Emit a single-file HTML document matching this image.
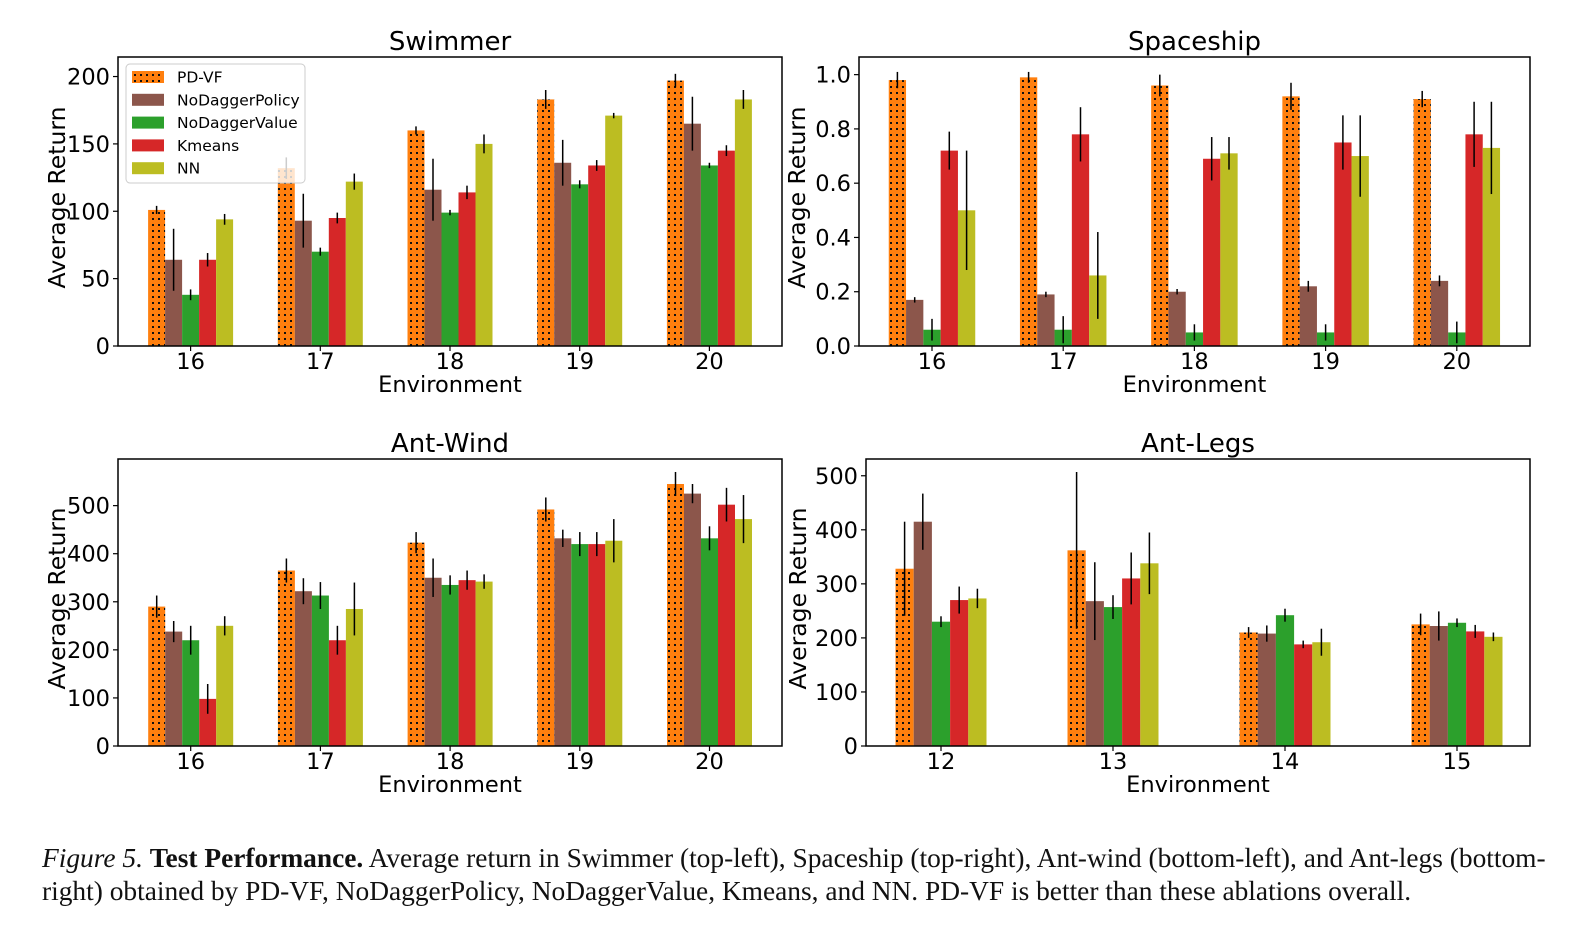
<!DOCTYPE html>
<html><head><meta charset="utf-8">
<style>
html,body{margin:0;padding:0;background:#fff;}
body{width:1584px;height:952px;position:relative;overflow:hidden;}
svg text{font-family:"DejaVu Sans","Liberation Sans",sans-serif;}
#caption{position:absolute;left:42px;top:842px;width:1476px;font-family:"Liberation Serif",serif;font-size:27.4px;line-height:33px;color:#111;}
#caption .l1{text-align:justify;text-align-last:justify;white-space:nowrap;}
#caption .l2{white-space:nowrap;}
</style></head>
<body>
<svg id="fig" width="1584" height="830" viewBox="0 0 1584 830" xmlns="http://www.w3.org/2000/svg">
<defs>
<pattern id="dots" width="6" height="6" patternUnits="userSpaceOnUse">
<rect width="6" height="6" fill="#ff7f0e"/>
<rect x="2" y="2" width="2" height="2" fill="#111"/>
</pattern>
</defs>
</svg>
<div id="caption"><div class="l1"><i>Figure 5.</i> <b>Test Performance.</b> Average return in Swimmer (top-left), Spaceship (top-right), Ant-wind (bottom-left), and Ant-legs (bottom-</div><div class="l2">right) obtained by PD-VF, NoDaggerPolicy, NoDaggerValue, Kmeans, and NN. PD-VF is better than these ablations overall.</div></div>
<script>
const seriesNames = ["PD-VF","NoDaggerPolicy","NoDaggerValue","Kmeans","NN"];
const seriesColors = ["url(#dots)","#8c564b","#2ca02c","#d62728","#bcbd22"];
const legendColors = ["url(#dots)","#8c564b","#2ca02c","#d62728","#bcbd22"];

const swimmerCats = ["16","17","18","19","20"];
const swimmerVals = [[101,132,160,183,197],[64,93,116,136,165],[38,70,99,120,134],[64,95,114,134,145],[94,122,150,171,183]];
const swimmerErr = [[3,8,3,7,5],[23,20,23,17,20],[4,3,2,3,2],[5,4,5,4,4],[4,6,7,2,7]];
const swimmerTicks = [0,50,100,150,200];

const shipCats = ["16","17","18","19","20"];
const shipVals = [[0.98,0.99,0.96,0.92,0.91],[0.17,0.19,0.20,0.22,0.24],[0.06,0.06,0.05,0.05,0.05],[0.72,0.78,0.69,0.75,0.78],[0.50,0.26,0.71,0.70,0.73]];
const shipErr = [[0.03,0.02,0.04,0.05,0.03],[0.01,0.01,0.01,0.02,0.02],[0.04,0.05,0.03,0.03,0.04],[0.07,0.10,0.08,0.10,0.12],[0.22,0.16,0.06,0.15,0.17]];
const shipTicks = [0,0.2,0.4,0.6,0.8,1.0];

const windCats = ["16","17","18","19","20"];
const windVals = [[290,365,423,492,545],[238,322,350,432,525],[220,313,335,420,432],[98,220,345,420,502],[250,285,342,427,472]];
const windErr = [[23,25,22,25,25],[22,27,40,18,20],[30,28,20,25,25],[31,30,20,25,35],[20,55,15,45,50]];
const windTicks = [0,100,200,300,400,500];

const legsCats = ["12","13","14","15"];
const legsVals = [[328,362,210,225],[415,268,208,222],[230,257,242,228],[270,310,188,212],[273,338,192,202]];
const legsErr = [[87,145,10,20],[52,72,15,27],[10,22,12,8],[25,48,7,12],[18,57,25,8]];
const legsTicks = [0,100,200,300,400,500];

const svg = document.getElementById('fig');
const NS = "http://www.w3.org/2000/svg";
function mk(tag, attrs){const e=document.createElementNS(NS,tag);for(const k in attrs)e.setAttribute(k,attrs[k]);svg.appendChild(e);return e;}

function panel(p){
  const {name,x0,x1,y0,y1,ymax,cats,vals,errs,ticks,c0,step,bw,fmt,title} = p;
  const ys = v => y1 - v/ymax*(y1-y0);
  const xs = i => c0 + i*step;
  const t = mk('text',{x:(x0+x1)/2,y:y0-7,'text-anchor':'middle','font-size':26});
  t.textContent = title;
  
  
  for(let s=0;s<vals.length;s++){
    for(let i=0;i<cats.length;i++){
      const cx = xs(i) + (s-2)*bw;
      const v = vals[s][i];
      const r = mk('rect',{x:cx-bw/2,y:ys(v),width:bw,height:y1-ys(v),fill:seriesColors[s]});
      
      
      const e = errs[s][i];
      const l = mk('line',{x1:cx,x2:cx,y1:ys(v-e),y2:ys(v+e),stroke:'#000','stroke-width':1.5});
      
      
    }
  }
  const fr = mk('rect',{x:x0,y:y0,width:x1-x0,height:y1-y0,fill:'none',stroke:'#000','stroke-width':1.5});
  
  
  ticks.forEach(v=>{
    mk('line',{x1:x0-5,x2:x0,y1:ys(v),y2:ys(v),stroke:'#000','stroke-width':1.2});
    const tl = mk('text',{x:x0-8,y:ys(v)+8,'text-anchor':'end','font-size':22.5});
    tl.textContent = fmt(v);
    
    
  });
  cats.forEach((c,i)=>{
    mk('line',{x1:xs(i),x2:xs(i),y1:y1,y2:y1+5,stroke:'#000','stroke-width':1.2});
    const tl = mk('text',{x:xs(i),y:y1+23,'text-anchor':'middle','font-size':22.5});
    tl.textContent = c;
    
    
  });
  const xl = mk('text',{x:(x0+x1)/2,y:y1+46,'text-anchor':'middle','font-size':22.5});
  xl.textContent = 'Environment';
  
  
  const yc = (y0+y1)/2 - 4;
  const yl = mk('text',{x:0,y:0,'text-anchor':'middle','font-size':23.5,transform:`translate(${p.ylx},${yc}) rotate(-90)`});
  yl.textContent = 'Average Return';
  
  
}
const f0 = v=>String(v);
const f1 = v=>v.toFixed(1);
panel({name:'swimmer',title:'Swimmer',x0:118,x1:782,y0:57,y1:346,ymax:214.5,cats:swimmerCats,vals:swimmerVals,errs:swimmerErr,ticks:swimmerTicks,c0:190.6,step:129.7,bw:17,fmt:f0,ylx:65});
panel({name:'spaceship',title:'Spaceship',x0:859,x1:1530,y0:57,y1:346,ymax:1.065,cats:shipCats,vals:shipVals,errs:shipErr,ticks:shipTicks,c0:932,step:131.2,bw:17.3,fmt:f1,ylx:805});
panel({name:'ant-wind',title:'Ant-Wind',x0:118,x1:782,y0:459,y1:746,ymax:597,cats:windCats,vals:windVals,errs:windErr,ticks:windTicks,c0:190.7,step:129.7,bw:17,fmt:f0,ylx:65});
panel({name:'ant-legs',title:'Ant-Legs',x0:866,x1:1530,y0:459,y1:746,ymax:531,cats:legsCats,vals:legsVals,errs:legsErr,ticks:legsTicks,c0:941,step:172,bw:18.2,fmt:f0,ylx:806});

// legend
const lg = mk('rect',{x:126,y:64,width:179,height:119,rx:4,fill:'#fff','fill-opacity':0.8,stroke:'#ccc','stroke-width':1});


seriesNames.forEach((n,i)=>{
  const cy = 77 + i*22.8;
  const sw = mk('rect',{x:132,y:cy-6,width:32,height:12,fill:legendColors[i]});
  
  
  const tx = mk('text',{x:177,y:cy+5.5,'font-size':15.5});
  tx.textContent = n;
  
  
});
</script>
</body></html>
